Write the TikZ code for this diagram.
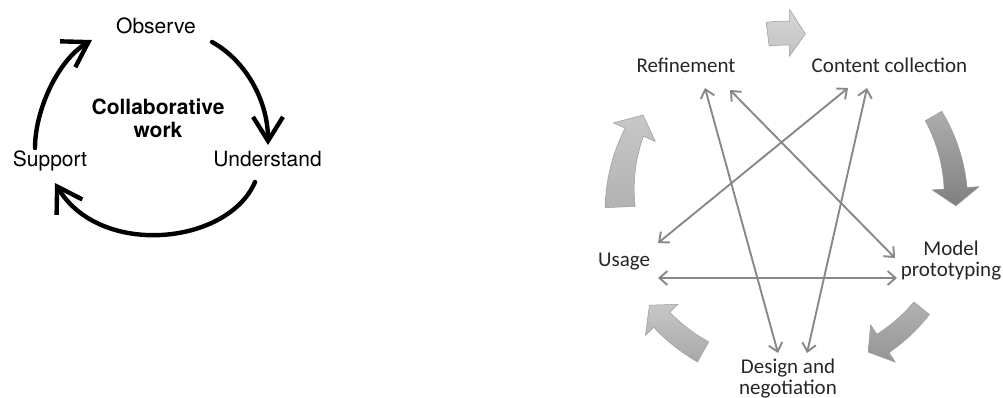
\documentclass[tikz,border=0pt]{standalone}
\usepackage{fontspec}
\setmainfont{Carlito}
\newfontfamily\helv{TeX Gyre Heros}
\usetikzlibrary{arrows.meta}

% curved block arrow on a ring around (788,200):
% #1 radius, #2 tail angle, #3 neck angle, #4 tip angle,
% #5 half width at tail, #6 half width at neck, #7 half head width, #8 style
\newcommand\ringarrow[8]{%
  \path[#8]
    plot[domain=#2:#3,samples=16]
      ({788+(#1+#5+(#6-#5)*(\x-#2)/(#3-#2))*cos(\x)},{200+(#1+#5+(#6-#5)*(\x-#2)/(#3-#2))*sin(\x)})
    -- ({788+(#1+#7)*cos(#3)},{200+(#1+#7)*sin(#3)})
    -- ({788+#1*cos(#4)},{200+#1*sin(#4)})
    -- ({788+(#1-#7)*cos(#3)},{200+(#1-#7)*sin(#3)})
    -- plot[domain=#3:#2,samples=16]
      ({788+(#1-#5-(#6-#5)*(\x-#2)/(#3-#2))*cos(\x)},{200+(#1-#5-(#6-#5)*(\x-#2)/(#3-#2))*sin(\x)})
    -- cycle;}

\definecolor{linkgray}{HTML}{888888}
\definecolor{ringedge}{HTML}{9A9A9A}

\begin{document}
\begin{tikzpicture}[x=1pt,y=-1pt,
  handlabel/.style={font=\helv\fontsize{21}{23}\selectfont, inner sep=0pt, anchor=base, align=center},
  handarrow/.style={line width=4.4pt, line cap=round,
    -{Straight Barb[length=24pt,width=30pt,line width=4.4pt]}},
  steplabel/.style={font=\fontsize{21}{21}\selectfont, text=black!85, inner sep=0pt, anchor=base, align=center},
  link/.style={draw=linkgray, line width=1.9pt, >={Straight Barb[length=8pt,width=14pt]}, <->},
  ringbox/.style={draw=ringedge, line width=0.5pt, line join=round}
]
\useasboundingbox (0,0) rectangle (1003,398);

% ---------- left: collaborative work cycle ----------
\node[handlabel] (obs) at (156,34) {Observe};
\node[handlabel] (und) at (267.5,167) {Understand};
\node[handlabel] (sup) at (50,167) {Support};
% multi-line nodes sit on the baseline of their last line
\node[handlabel, font=\helv\bfseries\fontsize{21}{23}\selectfont] (cw) at (158,138) {Collaborative\\work};

\coordinate (obs-in)  at (92,40);
\coordinate (obs-out) at (212,42);
\coordinate (und-in)  at (268,145);
\coordinate (und-out) at (255,182);
\coordinate (sup-in)  at (55,183);
\coordinate (sup-out) at (35,148);

\draw[handarrow] (sup-out) .. controls (35,110) and (58,60) .. (obs-in);
\draw[handarrow] (obs-out) .. controls (245,60) and (268,100) .. (und-in);
\draw[handarrow] (und-out) .. controls (228,245) and (100,258) .. (sup-in);

% ---------- right: design process cycle ----------
\ringarrow{167}{-97}{-89.5}{-84}{12}{12}{23.5}{ringbox, top color=black!16, bottom color=black!24}
\ringarrow{168}{-30}{-4}{2}{9.5}{11.5}{23.5}{ringbox, top color=black!32, bottom color=black!50}
\ringarrow{172}{39}{56.5}{62.2}{10}{11}{22.5}{ringbox, top color=black!30, bottom color=black!42}
\ringarrow{174}{119.2}{136.5}{142.8}{11.5}{11}{22.5}{ringbox, top color=black!22, bottom color=black!34}
\ringarrow{168}{177.6}{203.8}{210.4}{15}{10}{23}{ringbox, top color=black!22, bottom color=black!30}

\node[steplabel] (ref) at (686,73) {Refinement};
\node[steplabel] (cc)  at (889.5,73) {Content collection};
\node[steplabel] (use) at (624,266) {Usage};
\node[steplabel] (mp)  at (951,276) {Model\\prototyping};
\node[steplabel] (dn)  at (788,394) {Design and\\negotiation};

\coordinate (ref-1) at (705,88);
\coordinate (ref-2) at (730,90);
\coordinate (cc-1)  at (848,88);
\coordinate (cc-2)  at (867,88);
\coordinate (use-1) at (658,243);
\coordinate (use-2) at (658,278);
\coordinate (mp-1)  at (895,258);
\coordinate (mp-2)  at (897,278);
\coordinate (dn-1)  at (778,353);
\coordinate (dn-2)  at (807,353);

\draw[link] (ref-1) -- (dn-1);
\draw[link] (ref-2) -- (mp-1);
\draw[link] (cc-1) -- (use-1);
\draw[link] (cc-2) -- (dn-2);
\draw[link] (use-2) -- (mp-2);
\end{tikzpicture}
\end{document}
